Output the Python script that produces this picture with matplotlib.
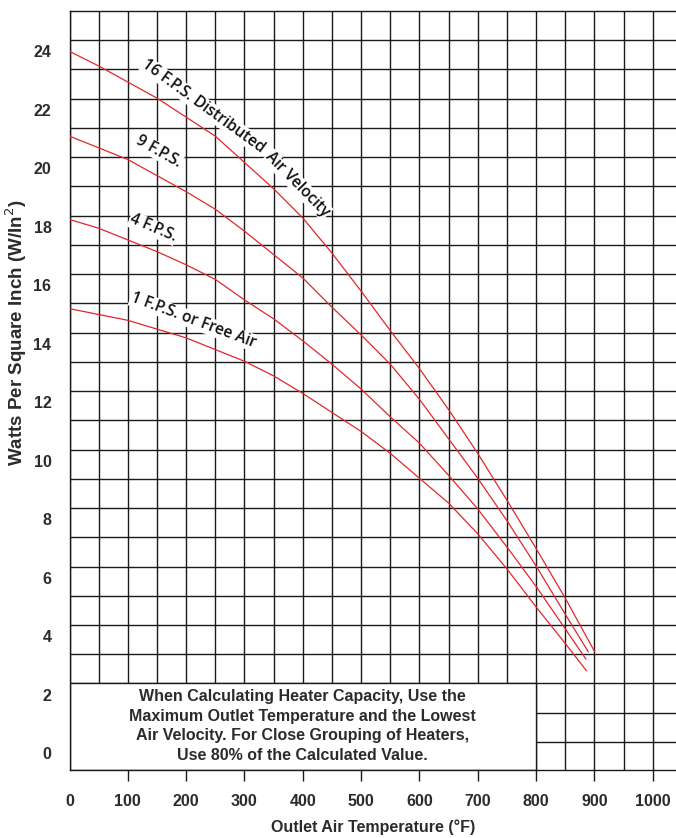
import matplotlib
matplotlib.use("Agg")
import matplotlib.pyplot as plt
from matplotlib.patches import Rectangle
from matplotlib.ticker import MultipleLocator, FixedLocator

# Outlet air temperature (°F) and watt density (W/in²) for each air velocity
temp_16 = [0, 50, 100, 150, 200, 250, 300, 350, 400, 450, 500, 550, 600, 650, 700, 750, 800, 850, 901]
wd_16 = [24.0, 23.5, 22.95, 22.4, 21.75, 21.1, 20.2, 19.3, 18.3, 17.1, 15.8, 14.45, 13.15, 11.75, 10.25, 8.65, 7.0, 5.3, 3.45]

temp_9 = [0, 50, 100, 150, 200, 250, 300, 350, 400, 450, 500, 550, 600, 650, 700, 750, 800, 850, 890]
wd_9 = [21.1, 20.7, 20.3, 19.75, 19.2, 18.6, 17.85, 17.05, 16.25, 15.25, 14.3, 13.3, 12.1, 10.75, 9.4, 7.95, 6.4, 4.75, 3.45]

temp_4 = [0, 50, 100, 150, 200, 250, 300, 350, 400, 450, 500, 550, 600, 650, 700, 750, 800, 850, 886]
wd_4 = [18.25, 17.95, 17.55, 17.15, 16.7, 16.2, 15.5, 14.85, 14.1, 13.3, 12.45, 11.5, 10.6, 9.5, 8.35, 7.05, 5.7, 4.25, 3.2]

temp_1 = [0, 50, 100, 150, 200, 250, 300, 350, 400, 450, 500, 550, 600, 650, 700, 750, 800, 850, 887]
wd_1 = [15.2, 15.0, 14.8, 14.5, 14.2, 13.8, 13.4, 12.9, 12.3, 11.65, 11.0, 10.25, 9.4, 8.55, 7.5, 6.3, 5.0, 3.75, 2.8]

# the 16 F.P.S. caption bends with its curve, so it is set in two pieces
curve_labels = ["16 F.P.S. Distributed", "Air Velocity", "9 F.P.S.", "4 F.P.S.", "1 F.P.S. or Free Air"]

x_ticks = [0, 100, 200, 300, 400, 500, 600, 700, 800, 900, 1000]
y_ticks = [0, 2, 4, 6, 8, 10, 12, 14, 16, 18, 20, 22, 24]

note = ("When Calculating Heater Capacity, Use the\n"
        "Maximum Outlet Temperature and the Lowest\n"
        "Air Velocity. For Close Grouping of Heaters,\n"
        "Use 80% of the Calculated Value.")

sans = ["Liberation Sans", "DejaVu Sans"]
curve_font = ["Open Sans", "DejaVu Sans"]
text_col = "#2b2b2b"
line_col = "#1a1a1a"
red = "#e3262d"
grid_off = 0.38

fig = plt.figure(figsize=(6.76, 8.38), dpi=100)
ax = fig.add_axes([69.5 / 676, (838 - 770) / 838, (676 - 69.5) / 676, 759 / 838])
ax.set_xlim(0, 1040)
ax.set_ylim(-0.58, 25 + grid_off)

# grid: 50 °F verticals, 1 W/in² horizontals
ax.xaxis.set_major_locator(FixedLocator(x_ticks))
ax.xaxis.set_minor_locator(MultipleLocator(50))
ax.yaxis.set_major_locator(FixedLocator(y_ticks))
ax.yaxis.set_minor_locator(FixedLocator([k + grid_off for k in range(0, 25)]))
ax.set_axisbelow(True)
ax.grid(which="both", axis="x", color=line_col, linewidth=1.0)
ax.grid(which="minor", axis="y", color=line_col, linewidth=1.0)

ax.tick_params(axis="x", which="major", direction="out", length=8, width=1.0,
               color=line_col, pad=9, labelsize=11.5)
ax.tick_params(axis="x", which="minor", length=0)
ax.tick_params(axis="y", which="both", length=0, pad=13, labelsize=11.5)
ax.xaxis.get_major_ticks()[0].tick1line.set_visible(False)
for lab in ax.get_xticklabels() + ax.get_yticklabels():
    lab.set_family(sans)
    lab.set_fontweight("bold")
    lab.set_color(text_col)

ax.spines["right"].set_visible(False)
for side in ("left", "top", "bottom"):
    ax.spines[side].set_linewidth(1.0)
    ax.spines[side].set_color(line_col)

# note box in the lower-left corner
ax.add_patch(Rectangle((0, -0.58), 800, 2 + grid_off + 0.58, facecolor="white",
                       edgecolor=line_col, linewidth=1.0, zorder=1))
ax.text(400, 0.92, note, ha="center", va="center", fontsize=11.5, family=sans,
        fontweight="bold", color=text_col, linespacing=1.38, zorder=3)

# curves sit above the caption backgrounds
for t, w in ((temp_16, wd_16), (temp_9, wd_9), (temp_4, wd_4), (temp_1, wd_1)):
    ax.plot(t, w, color=red, linewidth=0.9, zorder=4, solid_capstyle="butt")

box = dict(facecolor="white", edgecolor="none", pad=0.5)
label_pos = [(230, 22.12, -36), (391, 19.44, -45.5), (153, 20.57, -29.5),
             (143, 17.95, -23), (212, 14.8, -20.5)]
for txt, (lx, ly, rot) in zip(curve_labels, label_pos):
    ax.text(lx, ly, txt, ha="center", va="center", rotation=rot, rotation_mode="anchor",
            fontsize=11.3, family=curve_font, fontweight="semibold", color="#111111",
            bbox=box, zorder=3)

ax.set_xlabel("Outlet Air Temperature (°F)", family=sans, fontweight="bold",
              fontsize=11.5, color=text_col)
ax.xaxis.set_label_coords(0.5005, -0.065)
ax.set_ylabel("Watts Per Square Inch (W/In$^2$)", family=sans, fontweight="bold",
              fontsize=13.5, color=text_col)
ax.yaxis.set_label_coords(-0.066, 0.576)

fig.savefig("out.png", dpi=100)
